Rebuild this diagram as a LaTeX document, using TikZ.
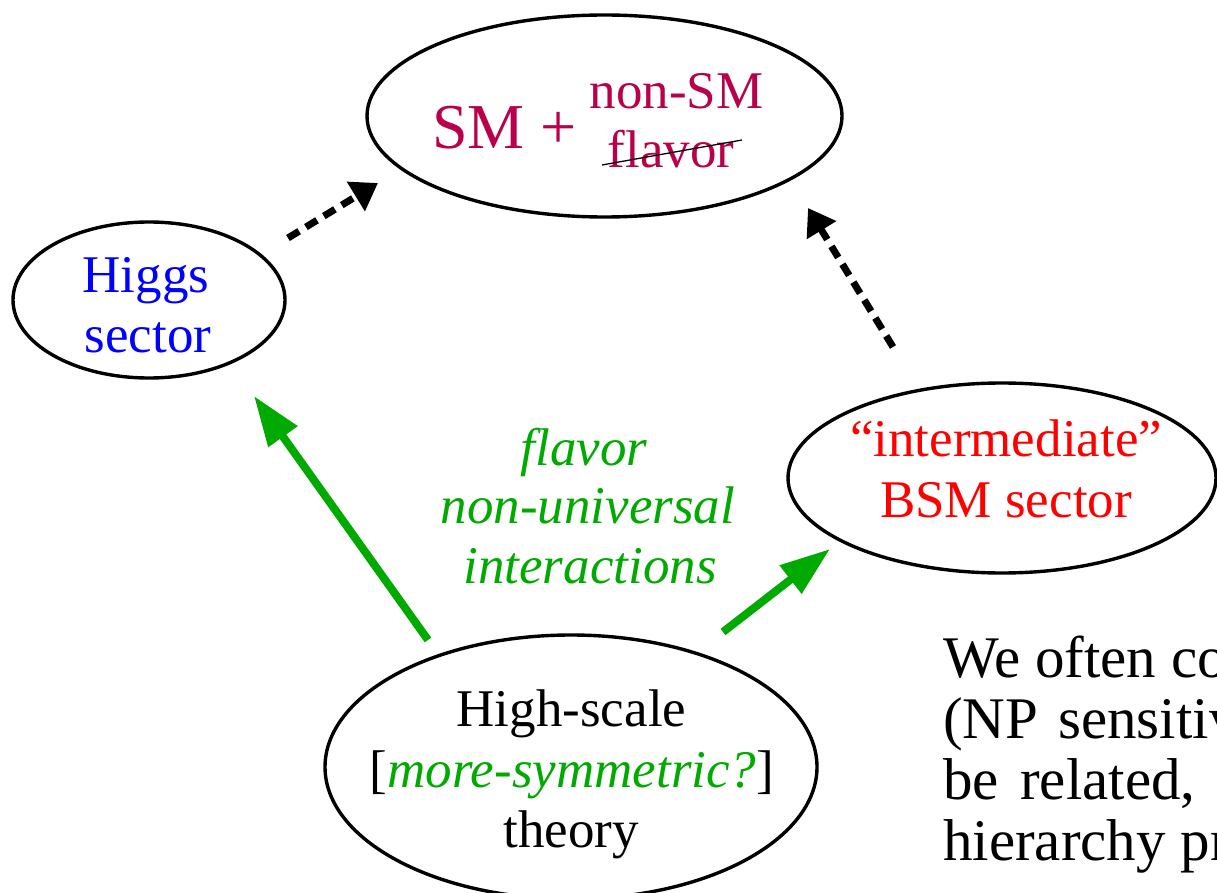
\documentclass[tikz,border=0pt]{standalone}
\usepackage{fontspec}
\setmainfont{Liberation Serif}
\usetikzlibrary{arrows.meta,shapes.geometric}
\definecolor{smred}{RGB}{185,0,75}
\definecolor{hblue}{RGB}{0,0,255}
\definecolor{bsmred}{RGB}{255,0,0}
\definecolor{fgreen}{RGB}{0,170,0}
\begin{document}
\begin{tikzpicture}[x=1pt,y=-1pt,
  oval/.style={draw,ellipse,line width=3.4pt,inner sep=0pt},
  txt/.style={anchor=base,inner sep=0pt,font=\fontsize{53}{60}\selectfont},
  txtw/.style={anchor=base west,inner sep=0pt,font=\fontsize{59}{61}\selectfont},
  dasharrow/.style={line width=7pt,dash pattern=on 13pt off 8pt,-{Triangle[length=26pt,width=33pt]}},
  greenarrow/.style={line width=8pt,draw=fgreen,fill=fgreen,-{Triangle[length=50pt,width=34pt]}}]
\useasboundingbox (0,0) rectangle (1217,893);
\clip (0,0) rectangle (1217,893);
% ellipses
\node[oval,minimum width=475pt,minimum height=202pt] (top) at (604.5,116) {};
\node[oval,minimum width=272pt,minimum height=156pt] (higgs) at (149,300) {};
\node[oval,minimum width=428pt,minimum height=190pt] (bsm) at (1002,478) {};
\node[oval,minimum width=492pt,minimum height=264pt] (hs) at (571,767) {};
% top text
\node[anchor=base west,inner sep=0pt,font=\fontsize{64}{70}\selectfont,text=smred] (smplus) at (432,149) {SM +};
\node[txt,text=smred] (nonsm) at (676.5,109) {non-SM};
\node[txt,text=smred] (flav) at (671,168) {flavor};
\coordinate (s1) at (602,165);
\coordinate (s2) at (742,140);
\draw[line width=1.3pt] (s1) -- (s2);
% higgs text
\node[txt,text=hblue] (h1) at (146,292) {Higgs};
\node[txt,text=hblue] (h2) at (148,352) {sector};
% bsm text
\node[txt,text=bsmred] (b1) at (1006,456) {“intermediate”};
\node[txt,text=bsmred] (b2) at (1006,517) {BSM sector};
% high-scale text
\node[txt] (t1) at (571.5,726) {High-scale};
\node[txt] (t2) at (572,787) {[\textcolor{fgreen}{\itshape more-symmetric?}]};
\node[txt] (t3) at (571,847) {theory};
% green middle text
\node[txt,text=fgreen,font=\fontsize{53}{60}\selectfont\itshape] (g1) at (584,465) {flavor};
\node[txt,text=fgreen,font=\fontsize{53}{60}\selectfont\itshape] (g2) at (588,523) {non-universal};
\node[txt,text=fgreen,font=\fontsize{53}{60}\selectfont\itshape] (g3) at (590,583) {interactions};
% right text
\node[txtw] (r1) at (943,677) {We often co};
\node[txtw] (r2a) at (943,738) {(NP};
\node[txtw] (r2b) at (1058,738) {sensitiv};
\node[txtw] (r3a) at (943,799) {be};
\node[txtw] (r3b) at (1020,799) {related,};
\node[txtw] (r4) at (943,860) {hierarchy pr};
% arrow end points
\coordinate (d1s) at (288,238);
\coordinate (d1e) at (378,183);
\coordinate (d2s) at (893,347);
\coordinate (d2e) at (808,208);
\coordinate (g1s) at (428,640);
\coordinate (g1e) at (254,396);
\coordinate (g2s) at (723,632);
\coordinate (g2e) at (830,549);
\draw[dasharrow] (d1s) -- (d1e);
\draw[dasharrow] (d2s) -- (d2e);
\draw[greenarrow] (g1s) -- (g1e);
\draw[greenarrow] (g2s) -- (g2e);
\end{tikzpicture}
\end{document}
